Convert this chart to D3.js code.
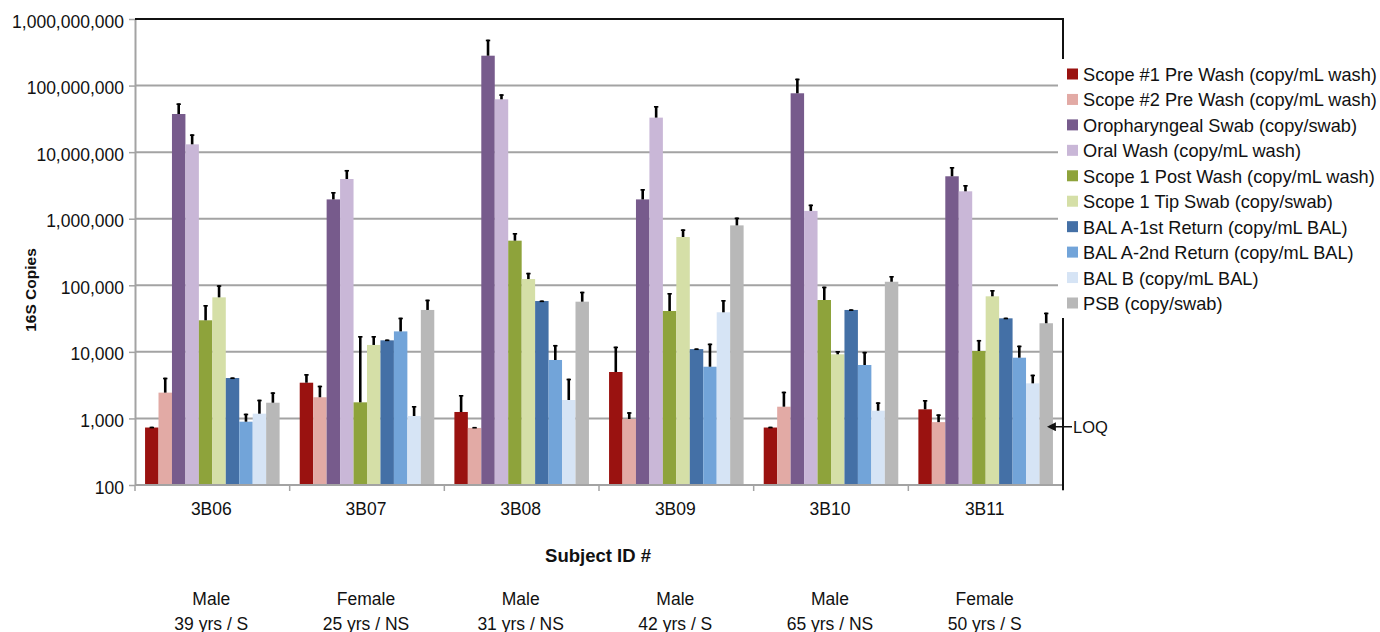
<!DOCTYPE html>
<html>
<head>
<meta charset="utf-8">
<script src="https://cdn.jsdelivr.net/npm/d3@7"></script>
<style>
  html, body { margin: 0; padding: 0; background: #fff; }
  svg { display: block; font-family: "Liberation Sans", Arial, Helvetica, sans-serif; }
</style>
</head>
<body>
<svg id="chart" width="1380" height="632"></svg>
<script>
// Subjects and their demographics
const subjects = ["3B06", "3B07", "3B08", "3B09", "3B10", "3B11"];
const sexes = ["Male", "Female", "Male", "Male", "Male", "Female"];
const ageSmoking = ["39 yrs / S", "25 yrs / NS", "31 yrs / NS", "42 yrs / S", "65 yrs / NS", "50 yrs / S"];

// Sample types (legend order) and their fill colours
const sampleTypes = [
  "Scope #1 Pre Wash (copy/mL wash)",
  "Scope #2 Pre Wash (copy/mL wash)",
  "Oropharyngeal Swab (copy/swab)",
  "Oral Wash (copy/mL wash)",
  "Scope 1 Post Wash (copy/mL wash)",
  "Scope 1 Tip Swab (copy/swab)",
  "BAL A-1st Return (copy/mL BAL)",
  "BAL A-2nd Return (copy/mL BAL)",
  "BAL B (copy/mL BAL)",
  "PSB (copy/swab)"
];
const sampleColors = ["#9a1210", "#e2aaa5", "#775b8c", "#c9b7d7", "#8ea33b", "#d5dfa7",
                      "#4470a6", "#72a4d9", "#d6e4f5", "#b8b8b8"];

// Mean 16S copies per subject (order follows `subjects`)
const scope1Pre   = [730, 3440, 1250, 4980, 730, 1370];
const scope2Pre   = [2440, 2080, 720, 980, 1500, 880];
const oroSwab     = [37400000, 1950000, 281000000, 1950000, 76600000, 4340000];
const oralWash    = [13100000, 3950000, 62200000, 33000000, 1310000, 2580000];
const scope1Post  = [29800, 1745, 468000, 41100, 60100, 10300];
const scope1Tip   = [65900, 12700, 124000, 531000, 9190, 68300];
const balA1       = [4045, 14900, 58000, 11000, 42600, 31900];
const balA2       = [893, 20300, 7550, 5980, 6350, 8170];
const balB        = [1178, 1087, 1892, 39300, 1306, 3365];
const psb         = [1722, 42600, 56700, 794000, 113000, 26900];

// Standard deviations (upper error bars)
const scope1PreSD  = [20, 1200, 1000, 7000, 20, 520];
const scope2PreSD  = [1650, 1020, 25, 260, 1020, 270];
const oroSwabSD    = [16600000, 570000, 208000000, 840000, 50400000, 1640000];
const oralWashSD   = [5400000, 1450000, 11800000, 16300000, 320000, 630000];
const scope1PostSD = [20800, 15550, 142000, 35500, 35200, 4800];
const scope1TipSD  = [34100, 4600, 30000, 161000, 1110, 16600];
const balA1SD      = [80, 400, 1000, 250, 900, 700];
const balA2SD      = [285, 12300, 5150, 7320, 3650, 4230];
const balBSD       = [732, 451, 2058, 20800, 439, 1175];
const psbSD        = [744, 18200, 23300, 246000, 25000, 11900];

// Y axis tick values and limit of quantification
const yTicks = [100, 1000, 10000, 100000, 1000000, 10000000, 100000000, 1000000000];
const loqValue = 750;

const seriesValues = [scope1Pre, scope2Pre, oroSwab, oralWash, scope1Post, scope1Tip, balA1, balA2, balB, psb];
const seriesSD = [scope1PreSD, scope2PreSD, oroSwabSD, oralWashSD, scope1PostSD, scope1TipSD, balA1SD, balA2SD, balBSD, psbSD];

const svg = d3.select("#chart");
const plot = { left: 135, right: 1063, top: 19, bottom: 485 };

const y = d3.scaleLog().domain([100, 1e9]).range([plot.bottom, plot.top]);
const x0 = d3.scaleBand().domain(subjects).range([plot.left, plot.right])
  .paddingInner(0.13).paddingOuter(0.065);
const x1 = d3.scaleBand().domain(d3.range(sampleTypes.length)).range([0, x0.bandwidth()]);

const fmt = d3.format(",");
const gridColor = "#a3a3a3";

// Horizontal gridlines
svg.append("g").selectAll("line")
  .data(yTicks.filter(t => t > 100 && t < 1e9))
  .join("line")
  .attr("x1", plot.left).attr("x2", plot.right)
  .attr("y1", d => y(d)).attr("y2", d => y(d))
  .attr("stroke", gridColor).attr("stroke-width", 2);

// Bars
const groups = svg.append("g").selectAll("g")
  .data(subjects)
  .join("g")
  .attr("transform", d => `translate(${x0(d)},0)`);

groups.each(function(subj, si) {
  const g = d3.select(this);
  const rows = sampleTypes.map((name, k) => ({
    k, value: seriesValues[k][si], sd: seriesSD[k][si]
  }));
  g.selectAll("rect")
    .data(rows)
    .join("rect")
    .attr("x", d => x1(d.k))
    .attr("y", d => y(d.value))
    .attr("width", x1.bandwidth())
    .attr("height", d => plot.bottom - y(d.value))
    .attr("fill", d => sampleColors[d.k]);

  // Upper error bars
  const err = g.selectAll("g.err")
    .data(rows)
    .join("g").attr("class", "err");
  err.append("line")
    .attr("x1", d => x1(d.k) + x1.bandwidth() / 2)
    .attr("x2", d => x1(d.k) + x1.bandwidth() / 2)
    .attr("y1", d => y(d.value))
    .attr("y2", d => y(d.value + d.sd))
    .attr("stroke", "#000").attr("stroke-width", 2.6);
  err.append("line")
    .attr("x1", d => x1(d.k) + x1.bandwidth() / 2 - 2.2)
    .attr("x2", d => x1(d.k) + x1.bandwidth() / 2 + 2.2)
    .attr("y1", d => y(d.value + d.sd) + 0.8)
    .attr("y2", d => y(d.value + d.sd) + 0.8)
    .attr("stroke", "#000").attr("stroke-width", 1.6);
});

// Y axis
const yAxis = svg.append("g")
  .attr("transform", `translate(${plot.left},0)`)
  .call(d3.axisLeft(y).tickValues(yTicks).tickFormat(fmt).tickSize(6).tickSizeOuter(0));
yAxis.select(".domain").attr("stroke", gridColor).attr("stroke-width", 2);
yAxis.selectAll(".tick line").attr("stroke", gridColor).attr("stroke-width", 1.5);
yAxis.selectAll(".tick text")
  .attr("x", -11).attr("dy", null).attr("y", 8)
  .attr("font-size", 17.5).attr("fill", "#111")
  .style("font-family", "'Liberation Sans', Arial, sans-serif");

// X axis with ticks at the group boundaries
const boundaries = subjects.map(s => x0(s) - x0.step() * x0.paddingInner() / 2);
boundaries[0] = plot.left;
boundaries.push(plot.right);
svg.append("line")
  .attr("x1", plot.left).attr("x2", plot.right)
  .attr("y1", plot.bottom).attr("y2", plot.bottom)
  .attr("stroke", gridColor).attr("stroke-width", 2);
svg.append("g").selectAll("line")
  .data(boundaries)
  .join("line")
  .attr("x1", d => d).attr("x2", d => d)
  .attr("y1", plot.bottom).attr("y2", plot.bottom + 6)
  .attr("stroke", gridColor).attr("stroke-width", 1.5);

// Subject labels and demographics
const centre = s => x0(s) + x0.bandwidth() / 2 - 1;
svg.append("g").selectAll("text")
  .data(subjects)
  .join("text")
  .attr("x", centre).attr("y", 514.5)
  .attr("text-anchor", "middle").attr("font-size", 17.5).attr("fill", "#111")
  .text(d => d);
svg.append("g").selectAll("text")
  .data(subjects)
  .join("text")
  .attr("x", centre).attr("y", 604.5)
  .attr("text-anchor", "middle").attr("font-size", 17.5).attr("fill", "#111")
  .text((d, i) => sexes[i]);
svg.append("g").selectAll("text")
  .data(subjects)
  .join("text")
  .attr("x", centre).attr("y", 629.5)
  .attr("text-anchor", "middle").attr("font-size", 17.5).attr("fill", "#111")
  .text((d, i) => ageSmoking[i]);

// Axis titles
svg.append("text")
  .attr("x", (plot.left + plot.right) / 2 - 1).attr("y", 561.5)
  .attr("text-anchor", "middle").attr("font-size", 18.5).attr("font-weight", "bold").attr("fill", "#111")
  .text("Subject ID #");
svg.append("text")
  .attr("transform", "translate(36,290) rotate(-90)")
  .attr("text-anchor", "middle").attr("font-size", 15.5).attr("font-weight", "bold").attr("fill", "#111")
  .text("16S Copies");

// Frame: black top edge and right edge
svg.append("line")
  .attr("x1", plot.left).attr("x2", plot.right)
  .attr("y1", plot.top).attr("y2", plot.top)
  .attr("stroke", "#111").attr("stroke-width", 2);
svg.append("line")
  .attr("x1", plot.right).attr("x2", plot.right)
  .attr("y1", plot.top - 1).attr("y2", plot.bottom + 5)
  .attr("stroke", "#111").attr("stroke-width", 2);

// Legend (white panel over the right edge)
const legend = svg.append("g");
legend.append("rect")
  .attr("x", 1058).attr("y", 59).attr("width", 322).attr("height", 259)
  .attr("fill", "#fff");
const legendRowY = d3.scaleLinear().domain([0, sampleTypes.length - 1]).range([74, 303]);
const items = legend.selectAll("g.item")
  .data(sampleTypes)
  .join("g").attr("class", "item")
  .attr("transform", (d, i) => `translate(1067,${legendRowY(i)})`);
items.append("rect")
  .attr("x", 0).attr("y", -5.5).attr("width", 11).attr("height", 11)
  .attr("fill", (d, i) => sampleColors[i]);
items.append("text")
  .attr("x", 16).attr("y", 7)
  .attr("font-size", 18.2).attr("fill", "#111")
  .text(d => d);

// LOQ marker
const loqY = y(loqValue);
svg.append("defs").append("marker")
  .attr("id", "arrowhead")
  .attr("viewBox", "0 0 10 10").attr("refX", 1).attr("refY", 5)
  .attr("markerWidth", 6).attr("markerHeight", 6).attr("orient", "auto-start-reverse")
  .append("path").attr("d", "M0,0 L10,5 L0,10 Z").attr("fill", "#111");
svg.append("line")
  .attr("x1", 1072).attr("x2", 1055)
  .attr("y1", loqY).attr("y2", loqY)
  .attr("stroke", "#111").attr("stroke-width", 1.5)
  .attr("marker-end", "url(#arrowhead)");
svg.append("text")
  .attr("x", 1073).attr("y", loqY + 6.5)
  .attr("font-size", 16.5).attr("fill", "#111")
  .text("LOQ");
</script>
</body>
</html>
